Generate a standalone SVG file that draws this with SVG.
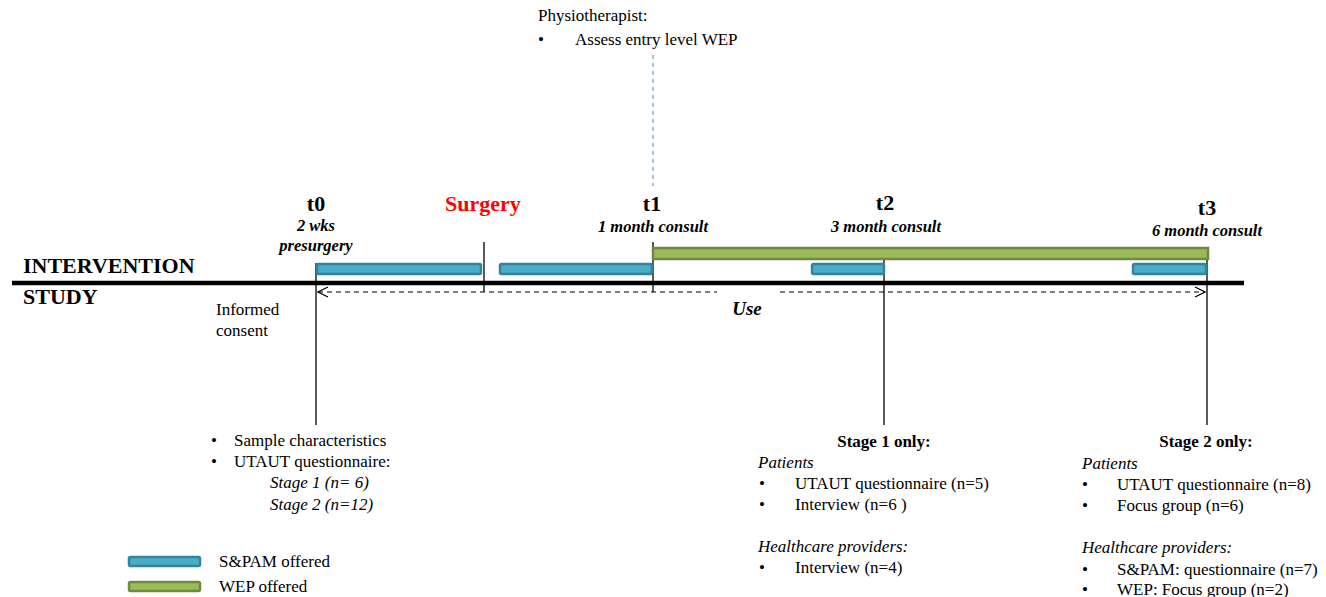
<svg xmlns="http://www.w3.org/2000/svg" width="1326" height="597" viewBox="0 0 1326 597">
<defs>
<style>
text{fill:#000;font-family:Liberation Serif, Times New Roman, Times, serif}
.b{font-size:17px}
.i{font-size:17px;font-style:italic}
.hd{font-size:17px;font-weight:bold}
.t{font-size:22px;font-weight:bold}
.bi{font-size:16.5px;font-weight:bold;font-style:italic}
.spam{fill:#4BACC6;stroke:#31849B;stroke-width:2.5}
.wep{fill:#9BBB59;stroke:#71893F;stroke-width:2.5}
.v{stroke:#000;stroke-width:1.3}
.dash{stroke:#000;stroke-width:1.2;stroke-dasharray:5,4;fill:none}
</style>
<marker id="ah" viewBox="0 0 12 12" refX="11" refY="6" markerWidth="12" markerHeight="12" markerUnits="userSpaceOnUse" orient="auto-start-reverse">
<path d="M1,1 L11,6 L1,11" fill="none" stroke="#000" stroke-width="1.2"/>
</marker>
</defs>
<rect width="1326" height="597" fill="#fff"/>
<g id="connectors">
<line x1="12" y1="283" x2="1244" y2="283" stroke="#000" stroke-width="4.5"/>
<line class="v" x1="316" y1="263" x2="316" y2="425"/>
<line class="v" x1="484" y1="242" x2="484" y2="292"/>
<line class="v" x1="653" y1="242" x2="653" y2="292"/>
<line x1="653" y1="55" x2="653" y2="186" stroke="#4F81BD" stroke-width="1" stroke-dasharray="4,4"/>
<line class="v" x1="884" y1="259" x2="884" y2="425"/>
<line class="v" x1="1207" y1="259" x2="1207" y2="425"/>
<line class="dash" x1="318" y1="292" x2="717" y2="292" marker-start="url(#ah)"/>
<line class="dash" x1="780" y1="292" x2="1205" y2="292" marker-end="url(#ah)"/>
</g>
<g id="bars">
<rect class="wep" x="653" y="248" width="555" height="11"/>
<rect class="spam" x="317" y="264" width="164" height="10" rx="1.5"/>
<rect class="spam" x="500" y="264" width="152" height="10" rx="1.5"/>
<rect class="spam" x="812" y="264" width="72" height="10" rx="1.5"/>
<rect class="spam" x="1133" y="264" width="73" height="10" rx="1.5"/>
</g>
<g id="study-label">
<text class="t" x="23" y="273">INTERVENTION</text>
<text class="t" x="23" y="304">STUDY</text>
</g>
<g id="t0">
<text class="t" x="316" y="211" text-anchor="middle">t0</text>
<text class="bi" x="316" y="231" text-anchor="middle">2 wks</text>
<text class="bi" x="316" y="251" text-anchor="middle">presurgery</text>
</g>
<g id="surgery">
<text class="t" x="483" y="211" text-anchor="middle" style="fill:#FF0000">Surgery</text>
</g>
<g id="t1">
<text class="t" x="652" y="211" text-anchor="middle">t1</text>
<text class="bi" x="653" y="232" text-anchor="middle">1 month consult</text>
</g>
<g id="t2">
<text class="t" x="885" y="210" text-anchor="middle">t2</text>
<text class="bi" x="886" y="232" text-anchor="middle">3 month consult</text>
</g>
<g id="t3">
<text class="t" x="1207" y="215" text-anchor="middle">t3</text>
<text class="bi" x="1207" y="236" text-anchor="middle">6 month consult</text>
</g>
<g id="use">
<text class="bi" x="747" y="315" text-anchor="middle" style="font-size:19px">Use</text>
</g>
<g id="physio">
<text class="b" x="538" y="21">Physiotherapist:</text>
<text class="b" x="538" y="45">•</text>
<text class="b" x="575" y="45">Assess entry level WEP</text>
</g>
<g id="consent">
<text class="b" x="216" y="315">Informed</text>
<text class="b" x="216" y="336">consent</text>
</g>
<g id="t0-measures">
<text class="b" x="211" y="446">•</text>
<text class="b" x="234" y="446">Sample characteristics</text>
<text class="b" x="211" y="467">•</text>
<text class="b" x="234" y="467">UTAUT questionnaire:</text>
<text class="i" x="270" y="488">Stage 1 (n= 6)</text>
<text class="i" x="270" y="510">Stage 2 (n=12)</text>
</g>
<g id="stage1">
<text class="hd" x="884" y="447" text-anchor="middle">Stage 1 only:</text>
<text class="i" x="758" y="468">Patients</text>
<text class="b" x="759" y="489">•</text>
<text class="b" x="795" y="489">UTAUT questionnaire (n=5)</text>
<text class="b" x="759" y="510">•</text>
<text class="b" x="795" y="510">Interview (n=6 )</text>
<text class="i" x="758" y="552">Healthcare providers:</text>
<text class="b" x="759" y="573">•</text>
<text class="b" x="795" y="573">Interview (n=4)</text>
</g>
<g id="stage2">
<text class="hd" x="1206" y="447" text-anchor="middle">Stage 2 only:</text>
<text class="i" x="1082" y="469">Patients</text>
<text class="b" x="1082" y="490">•</text>
<text class="b" x="1117" y="490">UTAUT questionnaire (n=8)</text>
<text class="b" x="1082" y="511">•</text>
<text class="b" x="1117" y="511">Focus group (n=6)</text>
<text class="i" x="1082" y="553">Healthcare providers:</text>
<text class="b" x="1082" y="575">•</text>
<text class="b" x="1117" y="575">S&amp;PAM: questionnaire (n=7)</text>
<text class="b" x="1082" y="595">•</text>
<text class="b" x="1117" y="595">WEP: Focus group (n=2)</text>
</g>
<g id="legend">
<rect class="spam" x="129" y="557" width="71" height="9" rx="1.5"/>
<text class="b" x="219" y="567">S&amp;PAM offered</text>
<rect class="wep" x="129" y="582" width="71" height="9" rx="1.5"/>
<text class="b" x="219" y="592">WEP offered</text>
</g>
</svg>
